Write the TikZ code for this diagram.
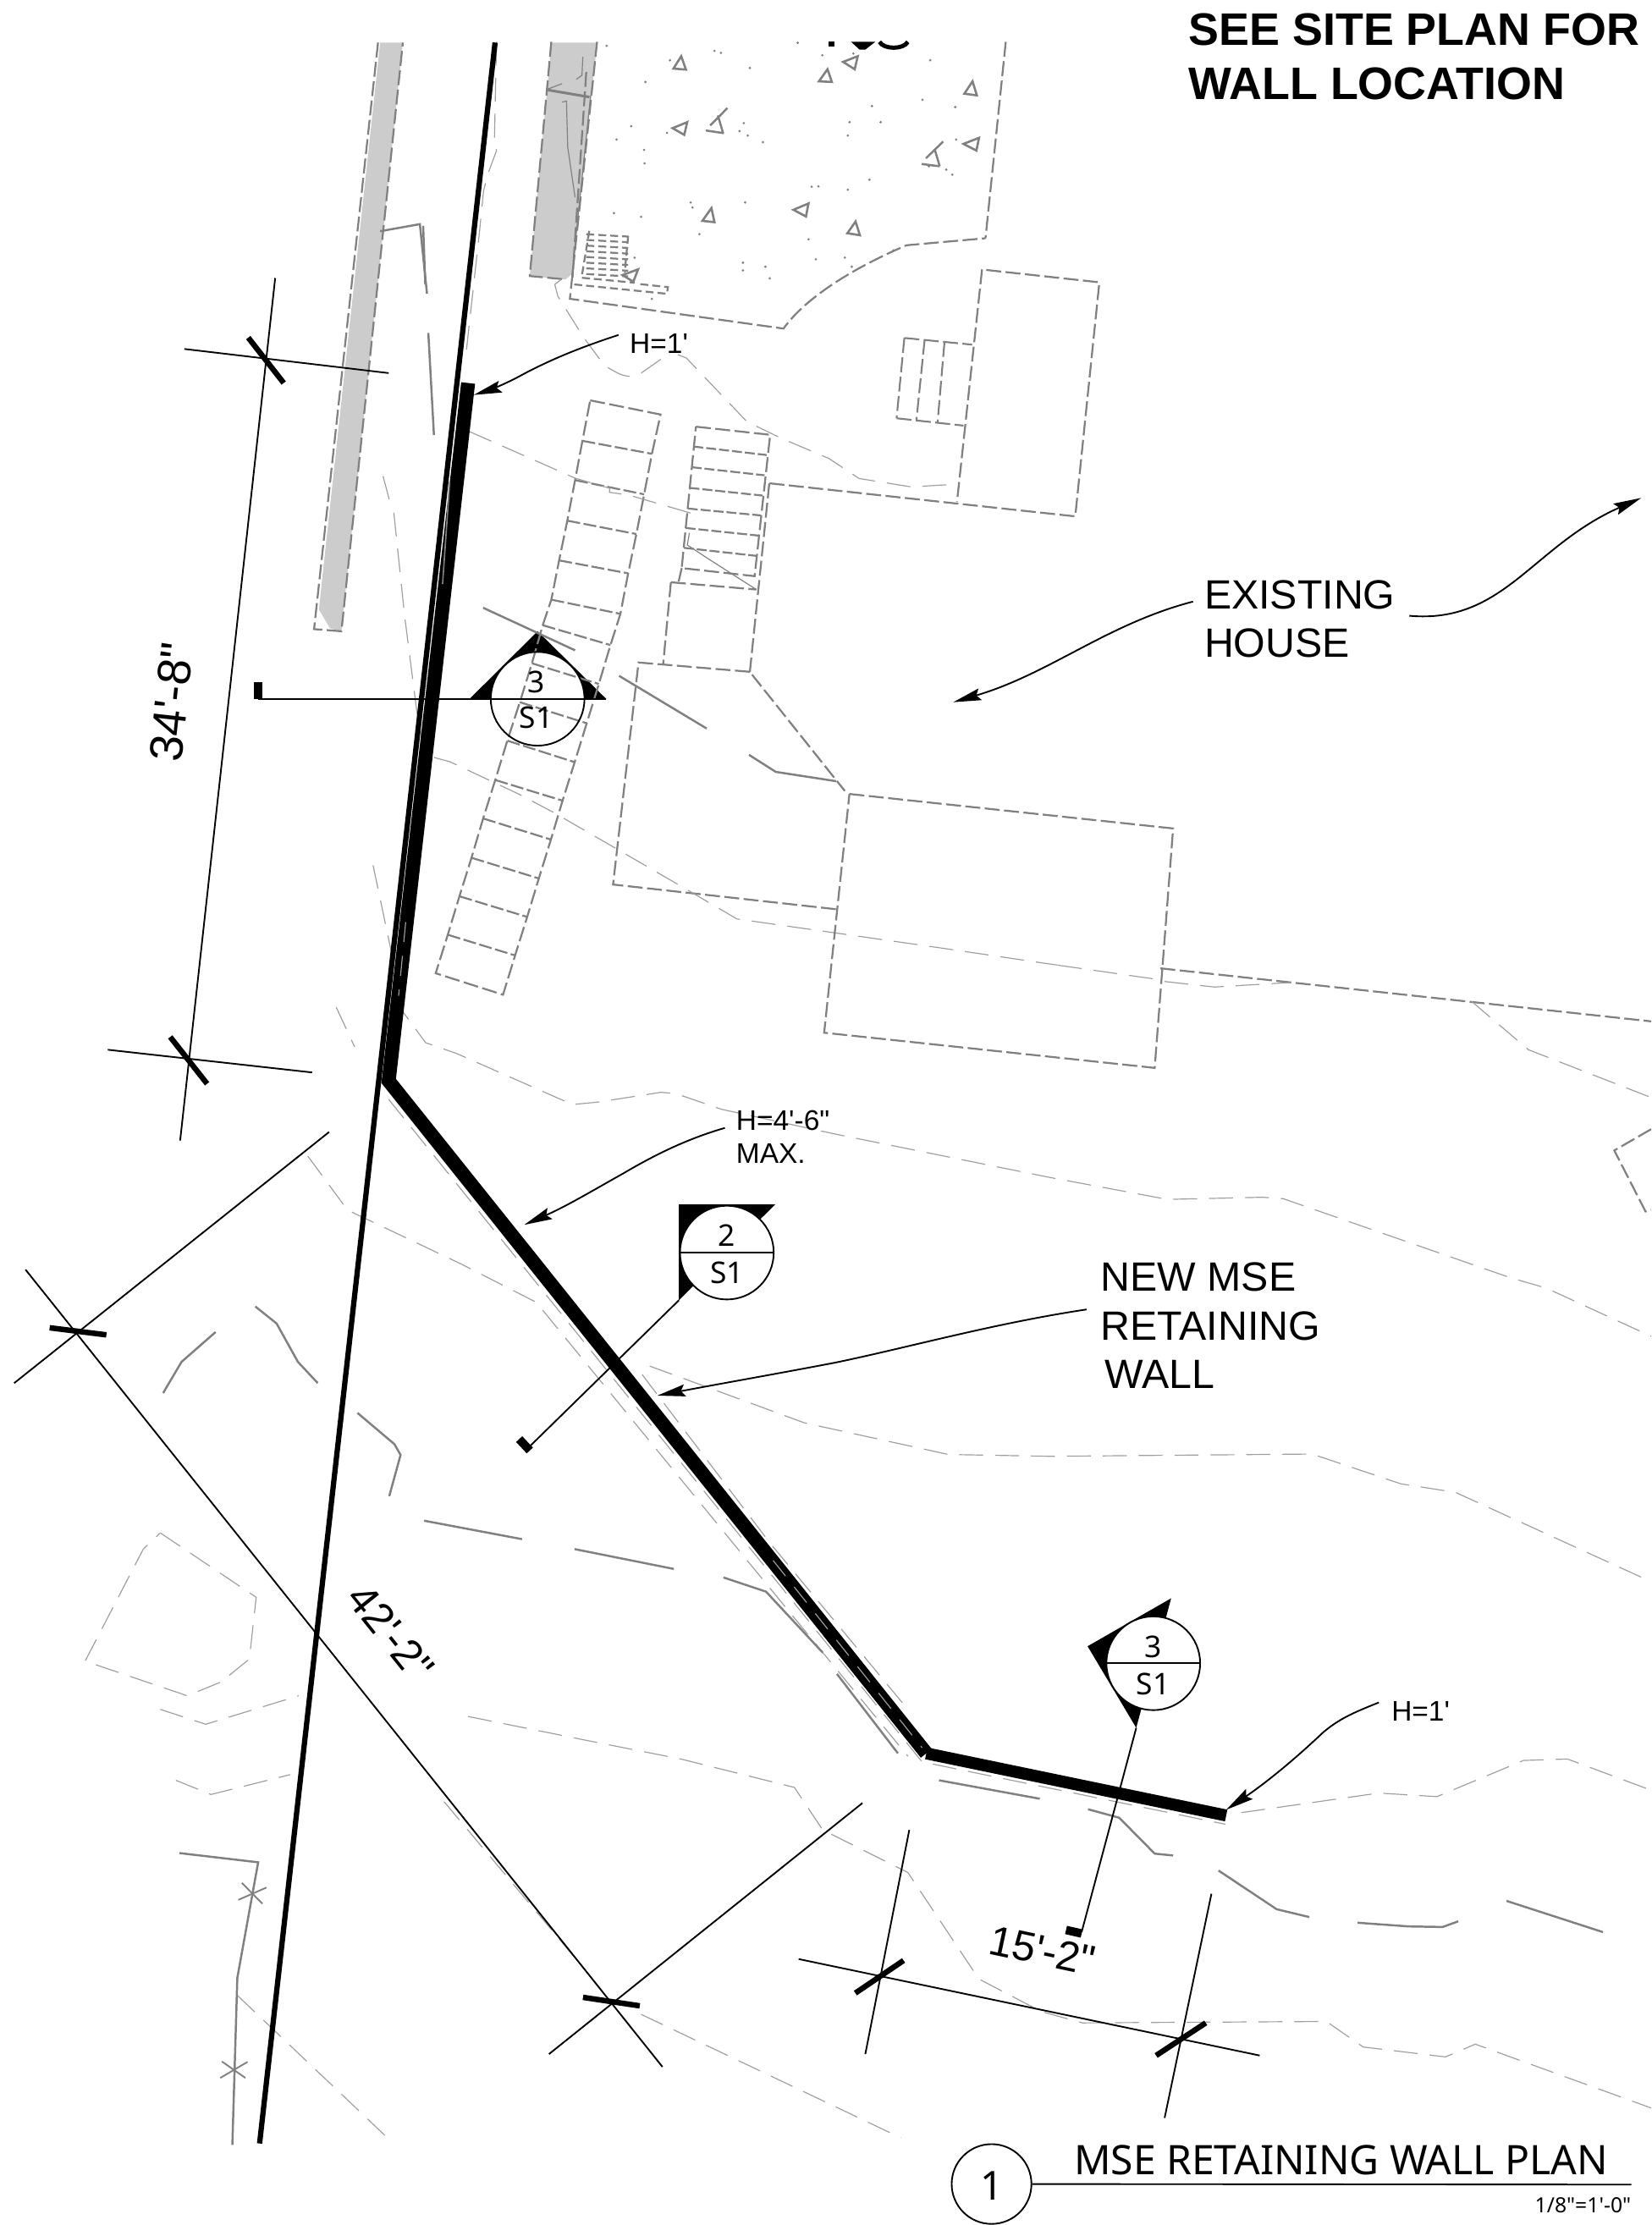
\documentclass[tikz,border=0pt]{standalone}
\usepackage{fontspec}
\usetikzlibrary{arrows.meta}
\newfontfamily\arialf{Liberation Sans}
\newfontfamily\cadf{Noto Sans}
\newcommand{\fsz}[1]{\fontsize{#1}{#1}\selectfont}
\definecolor{lotgray}{gray}{0.5}
\definecolor{contgray}{gray}{0.62}
\definecolor{stripgray}{gray}{0.8}
\tikzset{
 lot/.style={draw=lotgray,line width=1.9pt,dash pattern=on 15pt off 4.5pt},
 lotfine/.style={draw=lotgray,line width=1.9pt,dash pattern=on 8pt off 4pt},
 contour/.style={draw=contgray,line width=1pt,dash pattern=on 24pt off 12pt},
 gsolid/.style={draw=lotgray,line width=2.1pt},
 thing/.style={draw=lotgray,line width=1pt},
 dimline/.style={draw=black,line width=1.6pt},
 tickmark/.style={draw=black,line width=5.5pt},
 stub/.style={draw=black,line width=8.5pt},
 leader/.style={draw=black,line width=1.6pt,-{Stealth[length=28pt,width=12pt,inset=4pt]}},
 txt/.style={inner sep=0pt,outer sep=0pt,anchor=base west,font=\arialf\fsz{41}},
 small/.style={inner sep=0pt,outer sep=0pt,anchor=base west,font=\arialf\fsz{28.4}},
 dimtxt/.style={inner sep=0pt,outer sep=0pt,font=\arialf\fsz{47}},
 bubble/.style={circle,draw=black,line width=1.6pt,inner sep=0pt,minimum size=94pt},
 bubblebg/.style={circle,fill=white,inner sep=0pt,minimum size=94pt},
 cadtxt/.style={inner sep=0pt,outer sep=0pt,font=\cadf\fsz{30}},
 crop1/.style={shift={(298.3,0)},x=0.01522cm,y=-0.011795cm},
 crop2/.style={shift={(268.5,268.5)},x=0.01522cm,y=-0.014275cm},
}
\begin{document}
\begin{tikzpicture}[x=0.05cm,y=-0.05cm]
\useasboundingbox (0,0) rectangle (1164,1568.5);
\clip (0,0) rectangle (1164,1568.5);
% grey strips
\fill[stripgray] (268,30) -- (284,30) -- (240.7,445) -- (232.7,443) -- (224.8,429.6) -- cycle;
\fill[stripgray] (388.7,30) -- (421,30) -- (403.3,193) -- (398.7,197) -- (373.5,194.6) -- cycle;
\draw[lot] (266.5,30) -- (221.4,443.5) -- (240.7,445) -- (284,30);
% marker backgrounds
\fill (379,445) -- (331,492.7) -- (427.4,492.7) -- cycle;
\fill (478.6,849) -- (546.5,849) -- (478.6,916.6) -- cycle;
\fill (825.6,1126.7) -- (766.7,1160.5) -- (801,1218) -- cycle;
\node[bubblebg] (bgA) at (379,492.6) {};
\node[bubblebg] (bgB) at (512.4,883) {};
\node[bubblebg] (bgC) at (813,1172.5) {};
% crop 1 detail
\begin{scope}[crop1]
 \draw[lot] (297,125) -- (247,825) -- (330,835);
 \draw[lot] (403,125) -- (340,893) -- (835,982) .. controls (880,900) and (980,810) .. (1120,733) -- (1303,712);
 \draw[lot] (1350,125) -- (1303,712);
 \draw[lot] (1295,805) -- (1237,1500);
 \draw[gsolid,line width=2.6pt] (285,268) -- (385,290);
 \draw[lot] (378,215) -- (346,830);
 \draw[thing] (345,820) -- (388,285);
 \draw[thing] (285,268) -- (322,250);
 \draw[thing] (370,170) -- (368,225) -- (355,237);
 \draw[thing] (322,305) -- (332,302) -- (335,440) -- (352,590);
 \draw[lotfine] (350,850) -- (565,878) -- (567,858) -- (495,848);
 \draw[lotfine] (385,690) -- (367,830) -- (490,845);
 \draw[lotfine] (475,705) -- (467,815);
 \foreach \k in {0,...,7} \draw[lotfine] (378,{700+17*\k}) -- (475,{707+17*\k});
 \foreach \a/\b/\c/\d/\e/\f in {598/168/580/205/609/208,1007/168/973/185/1000/207,937/207/917/243/947/245,1273/243/1254/280/1283/285,612/365/578/383/605/403,1288/412/1252/430/1282/450,668/622/647/660/675/664,893/608/858/627/887/647,1002/662/983/697/1012/703,498/805/462/822/487/842}
  \draw[gsolid,line width=2.2pt] (\a,\b) -- (\c,\d) -- (\e,\f) -- cycle;
 \draw[gsolid] (705,323) -- (665,375) (683,345) -- (695,398) (655,390) -- (697,398);
 \draw[gsolid] (1205,423) -- (1165,473) (1185,445) -- (1197,497) (1155,490) -- (1197,497);
 \foreach \a/\b in {425/137,675/152,690/158,868/128,925/165,997/160,1175/180,572/180,757/203,515/245,1040/317,1157/298,1233/320,482/377,448/417,565/397,733/392,743/368,752/405,787/425,988/365,1060/365,984/405,512/448,513/488,1235/417,1172/497,1212/507,1226/522,1034/537,900/558,916/557,984/567,620/605,624/620,746/605,442/637,505/648,640/700,893/715,490/770,910/775,977/770,741/785,741/808,793/797,993/797,803/832,530/893,1090/748}
  \fill[lotgray] (\a,\b) circle [radius=1.3pt];
 \draw[lot,line width=1.8pt] (1115,1010) -- (1272,1030) (1097,1250) -- (1252,1272) (1115,1010) -- (1097,1250) (1162,1015) -- (1143,1255) (1208,1022) -- (1192,1262);
 \draw[contour] (170,125) -- (165,430) -- (170,450) -- (150,520) -- (140,570) -- (130,700) -- (100,1050);
 \draw[contour] (320,835) -- (305,850) -- (312,885) -- (370,1005) -- (410,1075) -- (430,1100) .. controls (460,1122) .. (480,1125) -- (505,1115) -- (555,1070);
 \draw[contour] (590,1060) -- (610,1070) -- (750,1260) -- (830,1310) -- (940,1370) -- (1010,1430) -- (1130,1455) -- (1240,1447);
 \draw[gsolid] (0,675) -- (5,850) (12,995) -- (25,1300);
\end{scope}
% crop 2 detail
\begin{scope}[crop2]
 \draw[lot] (485,48) -- (648,83) -- (628,180) -- (610,280) -- (592,378) -- (573,475) -- (555,575) -- (532,652) -- (505,748) -- (477,845) -- (449,941) -- (421,1036) -- (394,1132) -- (366,1228) -- (339,1323) -- (311,1418) -- (283,1515) -- (127,1462) -- (155,1367) -- (182,1272) -- (210,1177) -- (237,1080) -- (265,985) -- (293,888) -- (322,793) -- (350,697) -- (375,603) -- (395,540) -- (413,443) -- (432,345) -- (450,245) -- (467,148) -- cycle;
 \foreach \a/\b/\c/\d in {467/148/628/180,450/245/610/280,432/345/592/378,413/443/573/475,395/540/555/575,375/603/532/652,350/697/505/748,322/793/477/845,293/888/449/941,265/985/421/1036,237/1080/394/1132,210/1177/366/1228,182/1272/339/1323,155/1367/311/1418}
  \draw[lot,dash pattern=on 13pt off 3.5pt] (\a,\b) -- (\c,\d);
 \draw[lot] (730,113) -- (902,133) -- (866,482) -- (697,462) -- cycle;
 \foreach \a/\b/\c/\d in {724/162/894/183,720/213/889/233,715/264/884/283,711/315/880/332,706/363/876/382,702/412/871/432}
  \draw[lot,dash pattern=on 10pt off 3pt] (\a,\b) -- (\c,\d);
 \draw[lot] (697,462) -- (690,495);
 \draw[lot] (672,497) -- (870,515);
 \draw[lot] (672,497) -- (654,700);
 \draw[lot] (900,253) -- (855,718);
 \draw[lot] (855,718) -- (597,695) -- (538,1243) -- (1055,1304);
 \draw[lot] (860,725) -- (1075,1012);
 \draw[contour] (205,125) -- (450,240) -- (530,265) -- (530,275) -- (575,282) -- (730,330) -- (725,345);
 \draw[thing] (715,375) -- (710,405) -- (760,440) -- (870,515);
 \draw[contour] (5,235) -- (20,295);
 \draw[contour] (30,325) -- (55,580) -- (85,830) -- (95,885) -- (105,915) -- (125,930) -- (160,940) -- (240,980) -- (320,1020) -- (400,1065) -- (530,1145) -- (700,1250) -- (825,1328) -- (1050,1362) -- (1300,1400) -- (1568,1442);
 \draw[gsolid] (237,560) -- (450,665);
 \draw[gsolid] (552,728) -- (755,858);
 \draw[gsolid] (853,923) -- (915,965) -- (1055,988);
\end{scope}
% house lines (main coordinates)
\draw[lot] (542.5,340.7) -- (758,364) -- (775,199) -- (692.5,190);
\draw[lot] (598.8,559.7) -- (827,584) -- (814,752.8) -- (581,728) -- cycle;
\draw[lot] (818,682.6) -- (1164,720);
\draw[contour] (745.8,680.4) -- (813,690) -- (820,691.8) -- (856,695.8) -- (910,692.6);
\draw[contour] (1037.5,706) -- (1077.5,740) -- (1164,773.7);
\draw[lot] (1164,796) -- (1138,811) -- (1160,854) -- (1164,853);
% contours
\draw[contour] (237,710) -- (250,738);
\draw[contour] (278,705) -- (300,735) -- (322,742.7) -- (403.5,778.6) -- (420.8,777) -- (466,770) -- (476.7,771) -- (508.7,782) -- (588.6,799.4) -- (740,830) -- (823,845.5) -- (890,844) -- (904.6,845) -- (1064.7,900.7) -- (1090,908) -- (1164,942);
\draw[contour] (217,815) -- (245,853) -- (325,891) -- (378,918) -- (530,1104) -- (640,1238);
\draw[contour] (458,963) -- (567,1003) -- (668.5,1025.3) -- (740,1026.6) -- (925,1025) -- (987.5,1046) -- (1026,1052) -- (1164,1115);
\draw[contour] (452.7,969) -- (543,1088) -- (640,1205);
\draw[contour] (330,1210) -- (417.7,1227.7) -- (480,1240) -- (560,1260) -- (580,1290) -- (640,1320) -- (690,1395) -- (734,1418) -- (763,1426) -- (935,1425) -- (961,1443) -- (1019,1450) -- (1040,1441) -- (1164,1486);
\draw[contour] (167.3,1406.6) -- (277,1510.7);
\draw[contour] (452,1420) -- (635,1507);
\draw[contour] (313,1270) -- (412,1388);
\draw[contour] (274,775) -- (650,1242) -- (864,1286);
\draw[contour] (875,1277.8) -- (972,1264) -- (1013,1266.5) -- (1074,1241) -- (1105,1240) -- (1164,1262);
\draw[contour] (113,1080.6) -- (180.6,1126) -- (175.8,1169.5) -- (155.8,1185.7) -- (132,1195.4) -- (60,1171) -- (101,1092) -- cycle;
\draw[contour] (113,1205) -- (145,1215.5) -- (210.5,1195.4);
\draw[contour] (124,1255) -- (148.7,1265) -- (204.6,1251);
\draw[contour] (263,610) -- (282,700);
% grey solid pieces
\draw[gsolid] (115,982) -- (128,960) -- (152,939);
\draw[gsolid] (180,921) -- (195,933) -- (210,960) -- (224,975);
\draw[gsolid] (252,996) -- (278,1018) -- (282.4,1025.6) -- (274.4,1054.7);
\draw[gsolid] (299,1072) -- (368,1085);
\draw[gsolid] (405,1092) -- (475,1106);
\draw[gsolid] (510,1112) -- (540,1122) -- (580,1165);
\draw[gsolid] (590,1180) -- (633,1236);
\draw[gsolid] (662,1255) -- (733,1268);
\draw[gsolid] (767,1275.4) -- (789,1281.4) -- (814,1306.7) -- (827,1308);
\draw[gsolid] (859,1318.6) -- (900,1345.9) -- (923,1351.4);
\draw[gsolid] (957,1355.4) -- (993,1358) -- (1017,1358.4) -- (1028,1354.4);
\draw[gsolid] (1062,1340) -- (1130,1362);
\draw[gsolid] (268,163) -- (296,158) -- (301,207);
\draw[gsolid] (126.5,1306.3) -- (182,1312.8) -- (167.3,1394.3) -- (163.8,1512);
\draw[gsolid,line width=1.6pt] (168,1339.3) -- (187.8,1330.6) (170.5,1327.3) -- (185,1342);
\draw[gsolid,line width=1.6pt] (155.3,1464.8) -- (174.5,1453.5) (156.4,1453.2) -- (173,1464.8);
% fragment of clipped lettering at the top
\draw[black,line width=4.2pt] (620,29.5) .. controls (623,35) and (637,35) .. (640,29.5);
\fill (584,29.5) -- (588,29.5) -- (588,33) -- (584,33) -- cycle;
\fill (600,29.5) -- (617,29.5) -- (610,35) -- (606,35) -- cycle;
% dimension lines
\draw[dimline] (194,196) -- (127,804);
\draw[dimline] (130,246) -- (274,263);
\draw[dimline] (76,740) -- (220,756);
\draw[tickmark] (175,238) -- (200,270);
\draw[tickmark] (120,731) -- (146,764);
\draw[dimline] (18,895) -- (467,1457);
\draw[dimline] (10,975) -- (232,798);
\draw[dimline] (387,1448) -- (608,1271);
\draw[tickmark] (35,936) -- (75,941);
\draw[tickmark] (411,1408) -- (451,1414);
\draw[dimline] (563,1381) -- (888,1449);
\draw[dimline] (641,1290) -- (610,1448);
\draw[dimline] (854,1335) -- (821,1493);
\draw[tickmark] (603,1405) -- (637,1382);
\draw[tickmark] (815,1449) -- (850,1426);
\node[dimtxt,rotate=83.7] (dimA) at (121,495) {34'-8"};
\node[dimtxt,rotate=-51.3,font=\arialf\fsz{43}] (dimB) at (275.7,1151) {42'-2"};
\node[dimtxt,rotate=-12,font=\arialf\fsz{42}] (dimC) at (735,1375) {15'-2"};
% property line and wall
\coordinate (propT) at (349,30);
\coordinate (propB) at (183,1511);
\draw[black,line width=5.3pt] (propT) -- (propB);
\coordinate (wallA) at (330,270);
\coordinate (wallB) at (274,762);
\coordinate (wallC) at (653,1236);
\coordinate (wallD) at (864.4,1279.8);
\draw[black,line width=14pt,line join=miter] (wallA) -- (wallB) -- (wallC);
\draw[black,line width=12pt,line join=miter] (wallC) -- (wallD);
\draw[lotgray,line width=1.4pt] (317,340) -- (312,411.7);
\draw[contgray,line width=1pt,dash pattern=on 20pt off 14pt] (286,650) -- (281,702);
\draw[contgray,line width=1pt,dash pattern=on 20pt off 14pt] (545,1100) -- (650,1232);
% section markers
\coordinate (mkAr) at (427.4,492.7);
\coordinate (mkAe) at (182,492.7);
\draw[dimline] (mkAr) -- (mkAe);
\draw[stub] (182,481) -- (182,492.7);
\node[bubble] (mkA) at (379,492.6) {};
\node[cadtxt] (mkAt) at (378,481) {3};
\node[cadtxt] (mkAb) at (378,506) {S1};
\coordinate (mkBs) at (478.6,916.6);
\coordinate (mkBe) at (372,1021);
\draw[dimline] (mkBs) -- (mkBe);
\draw[stub] (366,1014.5) -- (373.5,1022.5);
\node[bubble] (mkB) at (512.4,883) {};
\draw[dimline] (mkB.west) -- (mkB.east);
\node[cadtxt] (mkBt) at (512.5,871) {2};
\node[cadtxt] (mkBb) at (512.5,897) {S1};
\coordinate (mkCs) at (801,1218);
\coordinate (mkCe) at (762.5,1362);
\draw[dimline] (mkCs) -- (mkCe);
\draw[stub] (751.5,1360.5) -- (762.5,1363);
\node[bubble] (mkC) at (813,1172.5) {};
\draw[dimline] (mkC.west) -- (mkC.east);
\node[cadtxt] (mkCt) at (813,1161) {3};
\node[cadtxt] (mkCb) at (813,1187) {S1};
% labels
\node[txt,font=\arialf\bfseries\fsz{45.7}] (see1) at (838,32) {SEE SITE PLAN FOR};
\node[txt,font=\arialf\bfseries\fsz{45.7}] (see2) at (838,70) {WALL LOCATION};
\node[txt] (ex1) at (849,429) {EXISTING};
\node[txt] (ex2) at (849,463) {HOUSE};
\node[txt] (nw1) at (776,910) {NEW MSE};
\node[txt] (nw2) at (776,945) {RETAINING};
\node[txt] (nw3) at (779,979) {WALL};
\node[small] (hA) at (444,249) {H=1'};
\node[small] (hB1) at (519,797) {H=4'-6"};
\node[small] (hB2) at (519,820) {MAX.};
\node[small] (hC) at (981,1213) {H=1'};
% leaders
\coordinate (tipA) at (334,278.4);
\draw[leader] (hA.west) ++(-8,-6) .. controls (415,243) and (390,252) .. (363.7,266.6) .. controls (355,271) and (345,275) .. (tipA);
\coordinate (tipB) at (369.6,863.4);
\draw[leader] (hB1.west) ++(-8,5) .. controls (480,804) and (455,818) .. (439,827.4) .. controls (420,838) and (400,850) .. (tipB);
\coordinate (tipC) at (672,495);
\draw[leader] (ex1.west) ++(-8,5) .. controls (780,440) and (740,475) .. (tipC);
\coordinate (tipD) at (1157,351);
\draw[leader] (ex1.east) ++(10,15) .. controls (1060,440) and (1080,385) .. (tipD);
\coordinate (tipE) at (463.4,983.8);
\draw[leader] (nw2.west) ++(-10,-12) .. controls (700,933) and (640,950) .. (588.6,960.6) .. controls (550,968) and (510,975) .. (tipE);
\coordinate (tipF) at (864.4,1275.8);
\draw[leader] (hC.west) ++(-9,-6) .. controls (955,1207) and (945,1211) .. (933,1221) .. controls (915,1238) and (895,1255) .. (tipF);
% title
\node[circle,draw=black,line width=1.6pt,inner sep=0pt,minimum size=80pt] (ttlC) at (699,1539.6) {};
\node[cadtxt,font=\cadf\fsz{40}] (ttlN) at (699,1541) {1};
\coordinate (ttlE) at (1150,1540);
\draw[dimline] (ttlC.east) -- (ttlE);
\node[inner sep=0pt,anchor=base west,font=\cadf\fsz{40.8}] (ttlT) at (757,1533) {MSE RETAINING WALL PLAN};
\node[inner sep=0pt,anchor=base east,font=\cadf\fsz{21}] (ttlS) at (1150,1560) {1/8"=1'-0"};
\end{tikzpicture}
\end{document}
